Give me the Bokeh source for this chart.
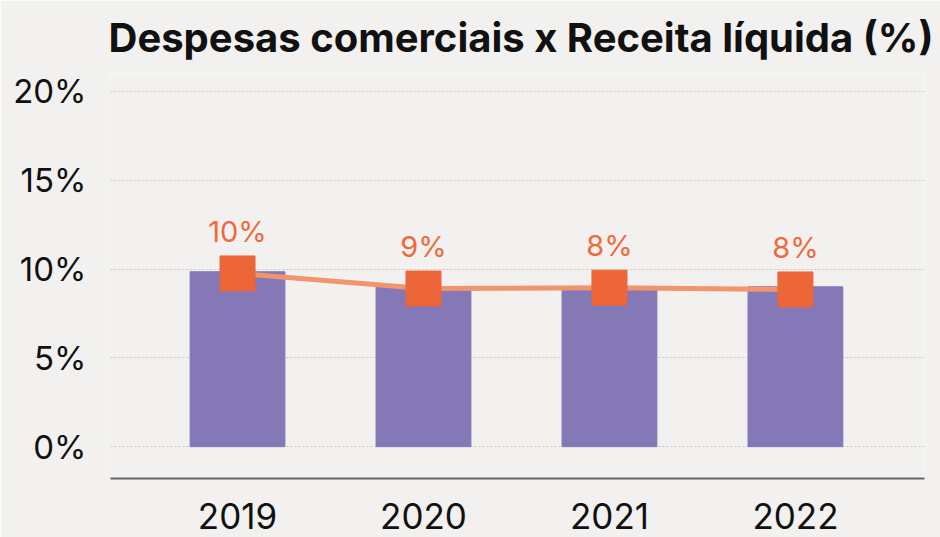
import numpy as np
from bokeh.plotting import figure
from bokeh.models import Range1d, FixedTicker, PrintfTickFormatter
from bokeh.embed import file_html
from bokeh.resources import INLINE

# ---- data ----
years = ["2019", "2020", "2021", "2022"]
despesas_bar = [9.85, 9.0, 9.0, 9.0]          # purple bars (%)
despesas_line = [9.75, 8.9, 8.95, 8.85]       # orange line / markers (%)
point_labels = ["10%", "9%", "8%", "8%"]
y_ticks = [0, 5, 10, 15, 20]
title_text = "Despesas comerciais x Receita líquida (%)"

BG = "#f2f1ef"
PURPLE = "#8479b6"
ORANGE = "#ec6639"
ORANGE_LINE = "#f2946c"
FONT = "Inter"
TITLE_FONT = "Inter"

xi = list(range(len(years)))

p = figure(width=940, height=537, output_backend="svg", toolbar_location=None,
           x_range=Range1d(-0.683, 3.694), y_range=Range1d(-1.793, 21.064),
           min_border_left=110, min_border_right=16, min_border_top=70, min_border_bottom=59,
           title=title_text)

p.background_fill_color = BG
p.border_fill_color = BG
p.outline_line_color = None

p.title.text_font = TITLE_FONT
p.title.text_font_style = "bold"
p.title.text_font_size = "40px"
p.title.text_color = "#111111"
p.title.align = "left"
p.title.offset = -2
p.title.standoff = 21

p.vbar(x=xi, top=despesas_bar, width=0.51, color=PURPLE)
p.line(x=xi, y=despesas_line, line_color=ORANGE_LINE, line_width=5)
p.scatter(x=xi, y=despesas_line, marker="square", size=35, color=ORANGE)
p.text(x=xi, y=despesas_line, text=point_labels, y_offset=-42,
       text_align="center", text_baseline="middle", text_font_size="29px",
       text_color="#ee6a3d", text_font={"value": FONT})

# grid
p.xgrid.visible = False
p.ygrid.ticker = FixedTicker(ticks=y_ticks)
p.ygrid.grid_line_color = "#c4c4c4"
p.ygrid.grid_line_dash = "2 2"
p.ygrid.grid_line_width = 1

# x axis
p.xaxis.ticker = FixedTicker(ticks=xi)
p.xaxis.major_label_overrides = {i: y for i, y in zip(xi, years)}
p.xaxis.axis_line_color = "#666666"
p.xaxis.axis_line_width = 2
p.xaxis.major_tick_line_color = None
p.xaxis.minor_tick_line_color = None
p.xaxis.major_label_standoff = 18
p.xaxis.major_label_text_font = FONT
p.xaxis.major_label_text_font_size = "35px"
p.xaxis.major_label_text_color = "#111111"

# y axis
p.yaxis.ticker = FixedTicker(ticks=y_ticks)
p.yaxis.formatter = PrintfTickFormatter(format="%d%%")
p.yaxis.axis_line_color = None
p.yaxis.major_tick_line_color = None
p.yaxis.minor_tick_line_color = None
p.yaxis.major_label_standoff = 18
p.yaxis.major_label_text_font = FONT
p.yaxis.major_label_text_font_size = "33px"
p.yaxis.major_label_text_color = "#111111"

open("out.html", "w").write(file_html(p, INLINE))
